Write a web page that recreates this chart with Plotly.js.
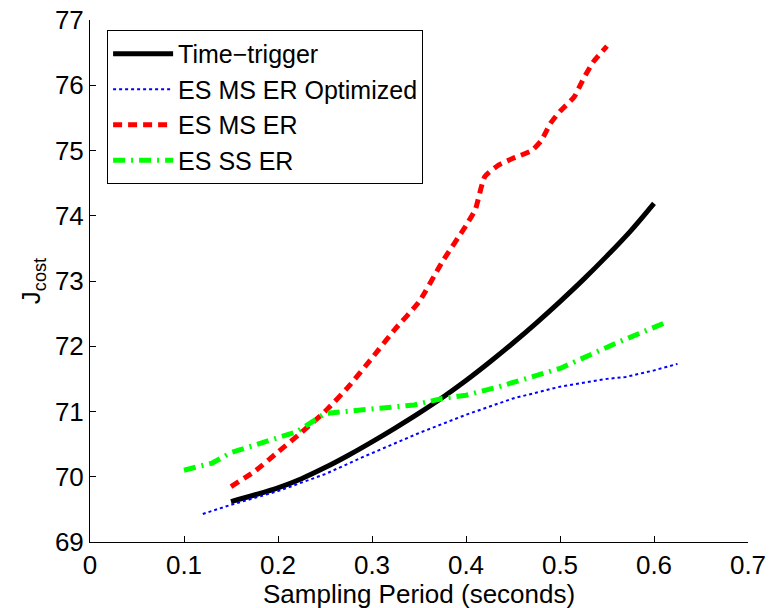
<!DOCTYPE html>
<html><head><meta charset="utf-8">
<script src="https://cdn.plot.ly/plotly-3.0.1.min.js"></script>
<style>body{margin:0;background:#fff}#chart{width:772px;height:608px}</style>
</head><body><div id="chart"></div>
<script>
var ttX = [0.15,0.175,0.2,0.225,0.25,0.275,0.3,0.325,0.35,0.375,0.4,0.425,0.45,0.475,0.5,0.525,0.55,0.575,0.6];
var ttY = [69.62,69.72,69.83,69.97,70.14,70.33,70.535,70.75,70.975,71.215,71.475,71.755,72.05,72.36,72.685,73.025,73.385,73.765,74.19];

var optX = [0.12,0.15,0.2,0.25,0.29,0.35,0.4,0.45,0.5,0.55,0.57,0.6,0.625];
var optY = [69.43,69.57,69.78,70.04,70.3,70.67,70.95,71.2,71.38,71.5,71.53,71.63,71.73];

var msX = [0.15,0.175,0.2,0.225,0.25,0.275,0.3,0.325,0.35,0.375,0.4,0.41,0.42,0.435,0.45,0.47,0.48,0.49,0.5,0.515,0.525,0.535,0.55];
var msY = [69.85,70.08,70.38,70.68,71.0,71.38,71.82,72.27,72.68,73.3,73.85,74.1,74.6,74.78,74.88,75.0,75.15,75.42,75.6,75.82,76.1,76.35,76.6];

var ssX = [0.1,0.13,0.15,0.19,0.22,0.25,0.3,0.345,0.375,0.4,0.435,0.5,0.56,0.61];
var ssY = [70.1,70.21,70.37,70.56,70.69,70.97,71.03,71.1,71.2,71.25,71.38,71.66,72.05,72.35];

var names = ['Time\u2212trigger','ES MS ER Optimized','ES MS ER','ES SS ER'];
var xTitle = 'Sampling Period (seconds)';
var yTitle = 'J<sub>cost</sub>';
var xTicks = [0,0.1,0.2,0.3,0.4,0.5,0.6,0.7];
var xTickText = ['0','0.1','0.2','0.3','0.4','0.5','0.6','0.7'];
var yTicks = [69,70,71,72,73,74,75,76,77];

var traces = [
  {x: ttX, y: ttY, name: names[0], mode:'lines', line:{color:'#000000', width:5, shape:'spline'}},
  {x: optX, y: optY, name: names[1], mode:'lines', line:{color:'#0000ff', width:2, dash:'dot'}},
  {x: msX, y: msY, name: names[2], mode:'lines', line:{color:'#ff0000', width:5, dash:'9px,6px', shape:'spline', smoothing:0.5}},
  {x: ssX, y: ssY, name: names[3], mode:'lines', line:{color:'#00ff00', width:5, dash:'12px,6px,2px,6px'}}
];

var font = {family:'Liberation Sans, Arial, sans-serif', size:26, color:'#000'};
var lfont = {family:'Liberation Sans, Arial, sans-serif', size:25, color:'#000'};
var layout = {
  width:772, height:608,
  margin:{l:90, r:24, t:20, b:66},
  paper_bgcolor:'#fff', plot_bgcolor:'#fff',
  font: font,
  showlegend:true,
  legend:{x:0.026, y:0.981, xanchor:'left', yanchor:'top', bgcolor:'#fff', bordercolor:'#000', borderwidth:1, font:lfont, tracegroupgap:0, itemwidth:60},
  xaxis:{range:[0,0.7], tickvals:xTicks, ticktext:xTickText, ticks:'inside', ticklen:6, tickcolor:'#000', showline:true, linecolor:'#000', linewidth:1, showgrid:false, zeroline:false, mirror:false},
  yaxis:{range:[69,77], tickvals:yTicks, ticks:'inside', ticklen:6, tickcolor:'#000', showline:true, linecolor:'#000', linewidth:1, showgrid:false, zeroline:false, mirror:false,
    title:{text:yTitle, font:font, standoff:6}},
  annotations:[{text:xTitle, xref:'paper', yref:'paper', x:0.5, y:-0.099, xanchor:'center', yanchor:'middle', showarrow:false, font:font}]
};
Plotly.newPlot('chart', traces, layout, {displayModeBar:false, staticPlot:true});
</script></body></html>
